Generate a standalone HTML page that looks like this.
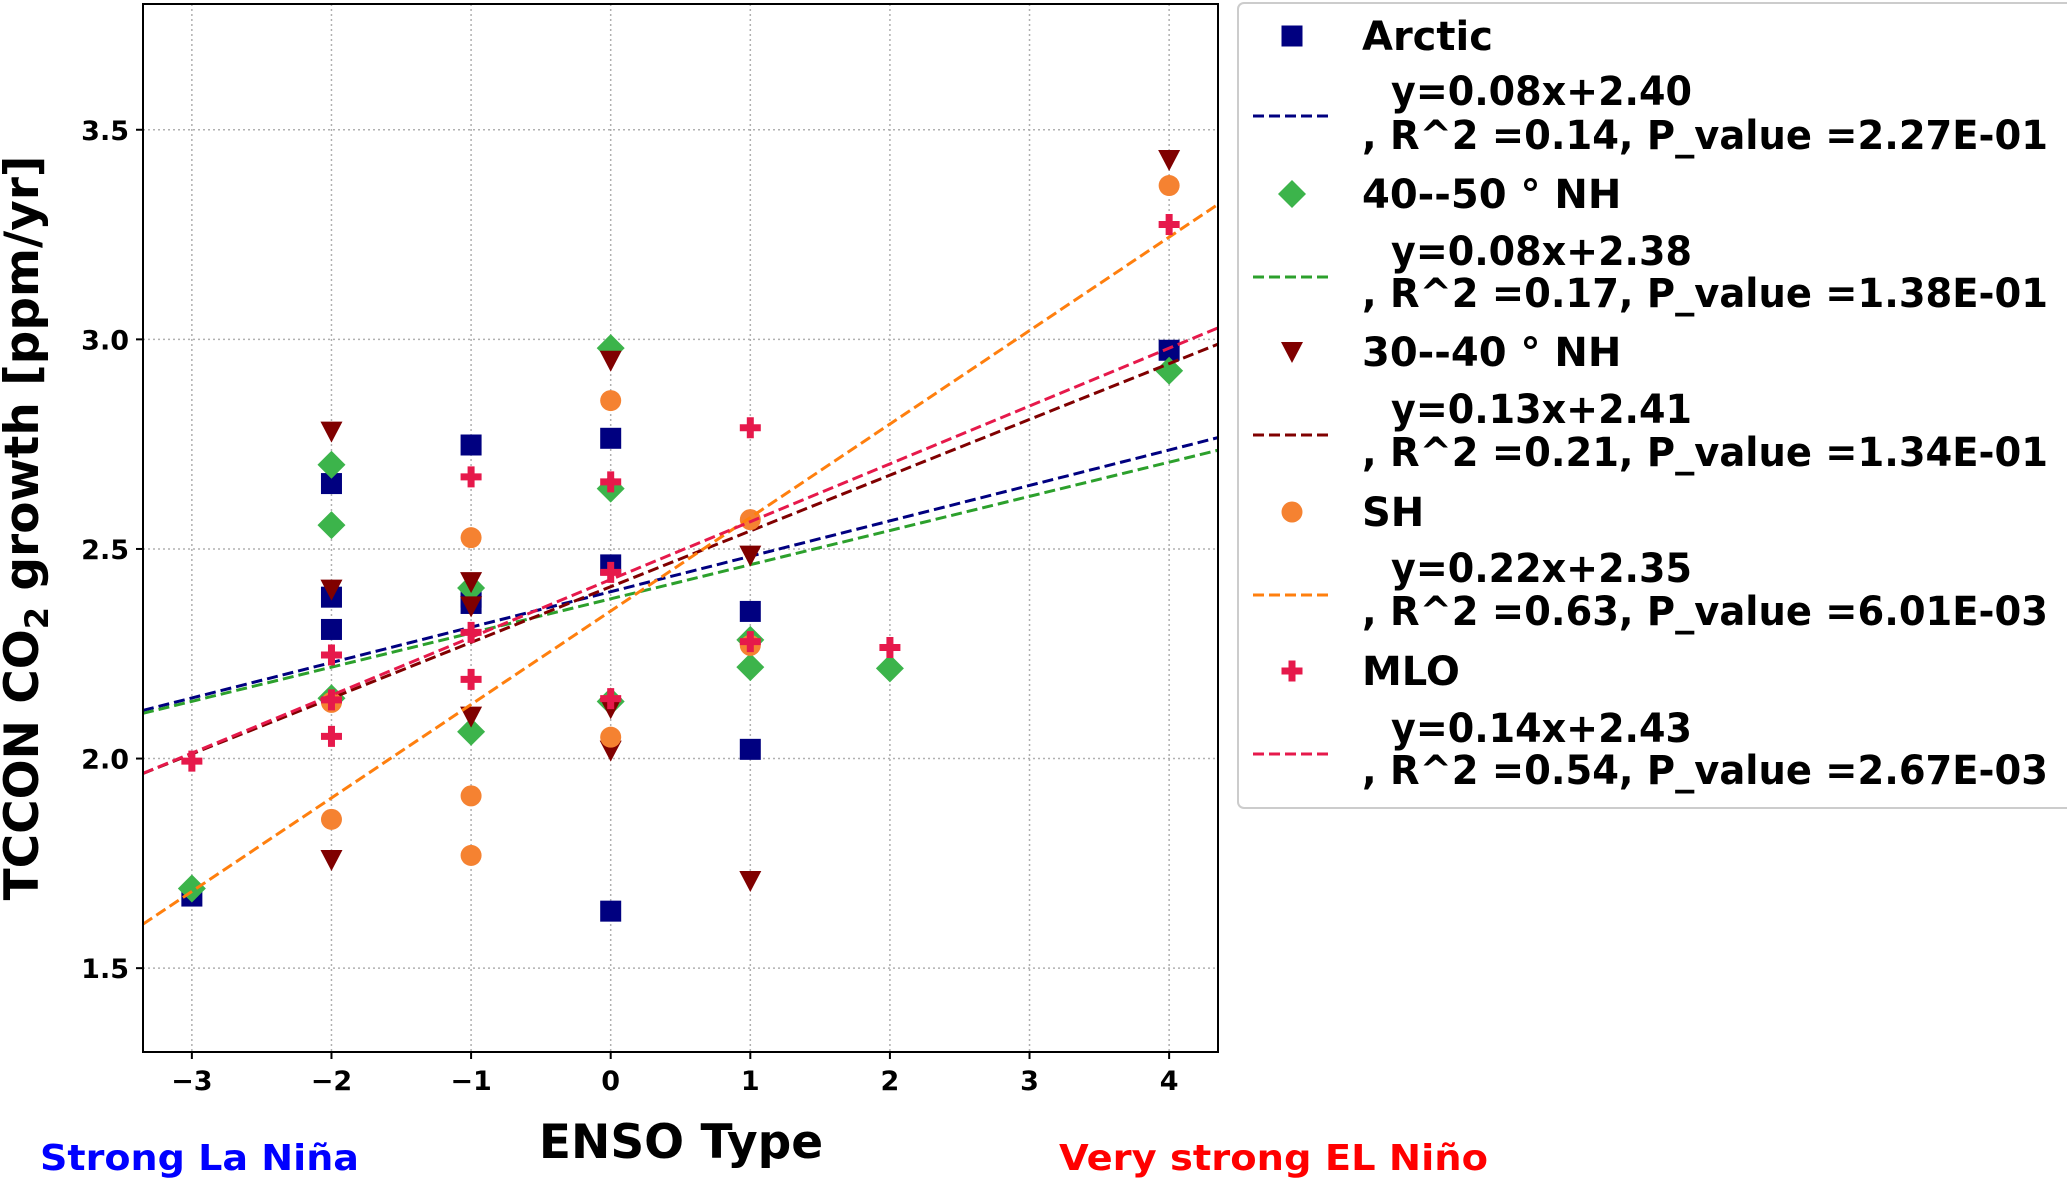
<!DOCTYPE html>
<html><head><meta charset="utf-8"><style>
html,body{margin:0;padding:0;background:#fff;}
svg{display:block;font-family:"DejaVu Sans","Liberation Sans",sans-serif;font-weight:bold;}
</style></head><body>
<svg id="chart" width="2067" height="1181" viewBox="0 0 2067 1181" xmlns="http://www.w3.org/2000/svg">
<g id="grid"></g>
<g id="series"></g>
<rect x="143" y="4" width="1075" height="1048" fill="none" stroke="#000" stroke-width="2"/>
<g id="ticks"></g>
<text transform="translate(38,528) rotate(-90)" text-anchor="middle" font-size="47">TCCON CO<tspan font-size="32" dy="10">2</tspan><tspan dy="-10"> growth [ppm/yr]</tspan></text>
<text x="681" y="1158" text-anchor="middle" font-size="47">ENSO Type</text>
<text x="40" y="1170" font-size="36" fill="#0000ff" textLength="319" lengthAdjust="spacingAndGlyphs">Strong La Niña</text>
<text x="1059" y="1170" font-size="36" fill="#ff0000" textLength="429" lengthAdjust="spacingAndGlyphs">Very strong EL Niño</text>
<g id="legend">
<rect x="1238" y="3" width="1826" height="805" rx="6" fill="#fff" stroke="#ccc" stroke-width="2"/>
</g>
</svg>
<script>
const xTicks=[-3,-2,-1,0,1,2,3,4];
const yTicks=[1.5,2.0,2.5,3.0,3.5];
const yTickLabels=["1.5","2.0","2.5","3.0","3.5"];
const xTickLabels=["\u22123","\u22122","\u22121","0","1","2","3","4"];
const seriesNames=["Arctic","40--50 \u00b0 NH","30--40 \u00b0 NH","SH","MLO"];
const arcticX=[-3,-2,-2,-2,-1,-1,-1,0,0,0,1,1,4];
const arcticY=[1.672,2.656,2.385,2.308,2.748,2.385,2.37,2.764,2.462,1.636,2.351,2.022,2.974];
const nh4050X=[-3,-2,-2,-2,-1,-1,0,0,0,1,1,2,4];
const nh4050Y=[1.690,2.701,2.557,2.144,2.407,2.064,2.979,2.644,2.136,2.283,2.218,2.215,2.925];
const nh3040X=[-2,-2,-2,-1,-1,-1,0,0,0,1,1,4];
const nh3040Y=[2.780,2.403,1.758,2.421,2.363,2.100,2.949,2.019,2.12,2.484,1.708,3.428];
const shX=[-2,-2,-1,-1,-1,0,0,1,1,4];
const shY=[2.134,1.855,2.527,1.911,1.769,2.854,2.051,2.570,2.27,3.367];
const mloX=[-3,-2,-2,-2,-1,-1,-1,0,0,0,1,1,2,4];
const mloY=[1.994,2.247,2.053,2.14,2.672,2.301,2.189,2.660,2.444,2.143,2.789,2.279,2.265,3.274];
const slopes=[0.0845,0.0815,0.133,0.223,0.138];
const intercepts=[2.398,2.381,2.410,2.352,2.427];
const eqLabels=["y=0.08x+2.40","y=0.08x+2.38","y=0.13x+2.41","y=0.22x+2.35","y=0.14x+2.43"];
const statLabels=[", R^2 =0.14, P_value =2.27E-01",", R^2 =0.17, P_value =1.38E-01",", R^2 =0.21, P_value =1.34E-01",", R^2 =0.63, P_value =6.01E-03",", R^2 =0.54, P_value =2.67E-03"];

const NS="http://www.w3.org/2000/svg";
const L=143,R=1218,T=4,B=1052,X0=-3.35,X1=4.35,Y0=1.30,Y1=3.80;
function sx(v){return L+(v-X0)/(X1-X0)*(R-L);}
function sy(v){return B-(v-Y0)/(Y1-Y0)*(B-T);}
function mk(tag,attrs,parent){const e=document.createElementNS(NS,tag);for(const k in attrs)e.setAttribute(k,attrs[k]);parent.appendChild(e);return e;}
const grid=document.getElementById('grid'),ticks=document.getElementById('ticks'),ser=document.getElementById('series'),leg=document.getElementById('legend');
xTicks.forEach((t,i)=>{
 const g=mk('line',{x1:sx(t),x2:sx(t),y1:T,y2:B,stroke:'#b0b0b0','stroke-width':1.5,'stroke-dasharray':'2,3'},grid);
 
 
 mk('line',{x1:sx(t),x2:sx(t),y1:B,y2:B+7,stroke:'#000','stroke-width':2},ticks);
 const tx=mk('text',{x:sx(t),y:B+38,'text-anchor':'middle','font-size':27},ticks);
 tx.textContent=xTickLabels[i];
 
 
});
yTicks.forEach((t,i)=>{
 const g=mk('line',{x1:L,x2:R,y1:sy(t),y2:sy(t),stroke:'#b0b0b0','stroke-width':1.5,'stroke-dasharray':'2,3'},grid);
 
 
 mk('line',{x1:L-7,x2:L,y1:sy(t),y2:sy(t),stroke:'#000','stroke-width':2},ticks);
 const tx=mk('text',{x:L-14,y:sy(t)+10,'text-anchor':'end','font-size':27},ticks);
 tx.textContent=yTickLabels[i];
 
 
});
const mColors=['#000080','#3cb44b','#800000','#f58231','#e6194b'];
const lColors=['#000080','#2ca02c','#800000','#ff7f0e','#e6194b'];
function marker(kind,cx,cy,parent,s){
 s=s||1;let e;
 if(kind===0)e=mk('rect',{x:cx-10.5*s,y:cy-10.5*s,width:21*s,height:21*s,fill:mColors[0]},parent);
 else if(kind===1)e=mk('polygon',{points:`${cx},${cy-14*s} ${cx+14*s},${cy} ${cx},${cy+14*s} ${cx-14*s},${cy}`,fill:mColors[1]},parent);
 else if(kind===2)e=mk('polygon',{points:`${cx-11*s},${cy-10*s} ${cx+11*s},${cy-10*s} ${cx},${cy+11*s}`,fill:mColors[2]},parent);
 else if(kind===3)e=mk('circle',{cx:cx,cy:cy,r:10.5*s,fill:mColors[3]},parent);
 else e=mk('path',{d:`M${cx-3.5*s},${cy-10.5*s}h${7*s}v${7*s}h${7*s}v${7*s}h${-7*s}v${7*s}h${-7*s}v${-7*s}h${-7*s}v${-7*s}h${7*s}z`,fill:mColors[4]},parent);
 return e;
}
const allX=[arcticX,nh4050X,nh3040X,shX,mloX],allY=[arcticY,nh4050Y,nh3040Y,shY,mloY];
const keys=['arctic','nh-40-50','nh-30-40','sh','mlo'];
for(let s=0;s<5;s++){
 allX[s].forEach((x,i)=>{
  const m=marker(s,sx(x),sy(allY[s][i]),ser);
  
  
 });
 const ln=mk('line',{x1:sx(X0),y1:sy(slopes[s]*X0+intercepts[s]),x2:sx(X1),y2:sy(slopes[s]*X1+intercepts[s]),stroke:lColors[s],'stroke-width':3,'stroke-dasharray':'11,5'},ser);
 
 
}
const clip=mk('clipPath',{id:'pc'},document.getElementById('chart'));
mk('rect',{x:L,y:T,width:R-L,height:B-T},clip);
ser.setAttribute('clip-path','url(#pc)');
const titleY=[36,194,352,512,671],eq1Y=[91,251,409,568,728],eq2Y=[135,293,452,611,770],dashY=[116,277,435,595,754];
for(let s=0;s<5;s++){
 const m=marker(s,1292,titleY[s],leg);
 
 
 const t=mk('text',{x:1362,y:titleY[s]+14,'font-size':40},leg);
 t.textContent=seriesNames[s];
 
 
 const d=mk('line',{x1:1253,x2:1330,y1:dashY[s],y2:dashY[s],stroke:lColors[s],'stroke-width':3,'stroke-dasharray':'11,5'},leg);
 
 
 const e1=mk('text',{x:1391,y:eq1Y[s]+14,'font-size':40,textLength:301,lengthAdjust:'spacingAndGlyphs'},leg);
 e1.textContent=eqLabels[s];
 
 
 const e2=mk('text',{x:1362,y:eq2Y[s]+14,'font-size':40,textLength:686,lengthAdjust:'spacingAndGlyphs'},leg);
 e2.textContent=statLabels[s];
 
 
}
</script>
</body></html>
